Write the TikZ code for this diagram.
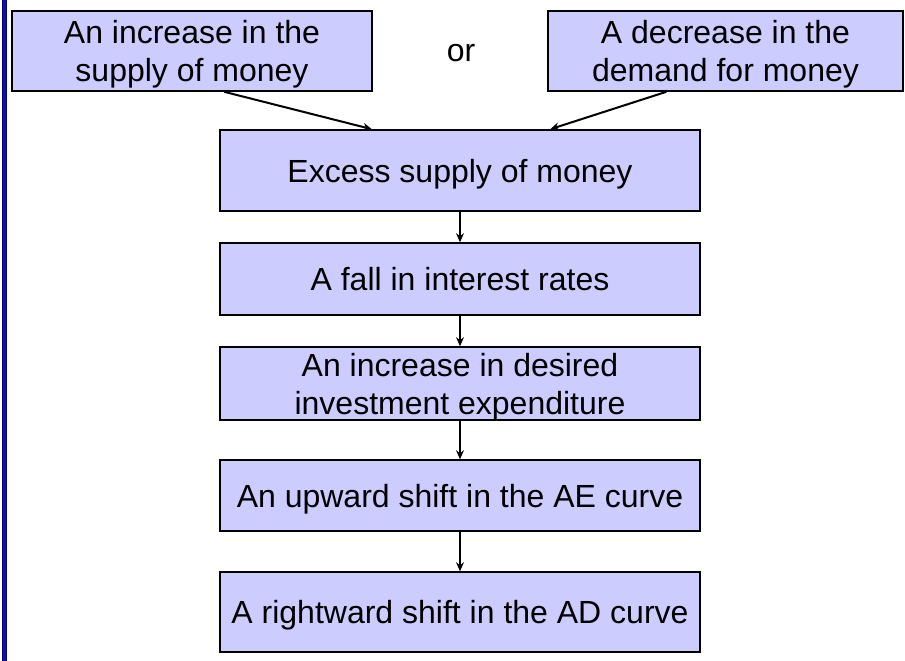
\documentclass[tikz,border=0pt]{standalone}
\usepackage{fontspec}
\setmainfont{Liberation Sans}
\usetikzlibrary{calc,arrows.meta}
\definecolor{boxfill}{RGB}{204,204,255}
\definecolor{rulebar}{RGB}{14,14,178}
\definecolor{rulebaredge}{RGB}{0,0,110}
\tikzset{
  stepbox/.style={draw=black, fill=boxfill, line width=1.6pt, rectangle,
    inner sep=0pt, align=center, text depth=0pt,
    font=\fontsize{32}{38}\selectfont},
  flow/.style={line width=2pt, -{Stealth[length=9pt,width=8pt]}},
}
\begin{document}
\begin{tikzpicture}[x=1pt,y=-1pt]
  \useasboundingbox (0,0) rectangle (905,661);
  % vertical bar along the left edge
  \fill[rulebaredge] (1.5,0) rectangle (6.5,661);
  \fill[rulebar] (2.5,0) rectangle (5.5,661);

  % the two starting causes
  \node[stepbox, minimum width=360pt, minimum height=80pt] (inc) at (192,51)
    {An increase in the\\supply of money};
  \node[stepbox, minimum width=355pt, minimum height=80pt] (dec) at (725.5,51)
    {A decrease in the\\demand for money};
  \node[font=\fontsize{32}{38}\selectfont] (or) at (461,53) {or};

  % the chain of effects
  \node[stepbox, minimum width=480pt, minimum height=81pt] (excess) at (460,170.5)
    {Excess supply of money};
  \node[stepbox, minimum width=480pt, minimum height=72pt] (fall) at (460,279)
    {A fall in interest rates};
  \node[stepbox, minimum width=480pt, minimum height=73pt] (invest) at (460,383.5)
    {An increase in desired\\investment expenditure};
  \node[stepbox, minimum width=480pt, minimum height=71pt] (ae) at (460,495.5)
    {An upward shift in the AE curve};
  \node[stepbox, minimum width=480pt, minimum height=80pt] (ad) at (460,612)
    {A rightward shift in the AD curve};

  % connectors
  \draw[flow] ($(inc.south west)!0.589!(inc.south east)$)
           -- ($(excess.north west)!0.317!(excess.north east)$);
  \draw[flow] ($(dec.south west)!0.334!(dec.south east)$)
           -- ($(excess.north west)!0.6875!(excess.north east)$);
  \draw[flow] (excess) -- (fall);
  \draw[flow] (fall) -- (invest);
  \draw[flow] (invest) -- (ae);
  \draw[flow] (ae) -- (ad);
\end{tikzpicture}
\end{document}
